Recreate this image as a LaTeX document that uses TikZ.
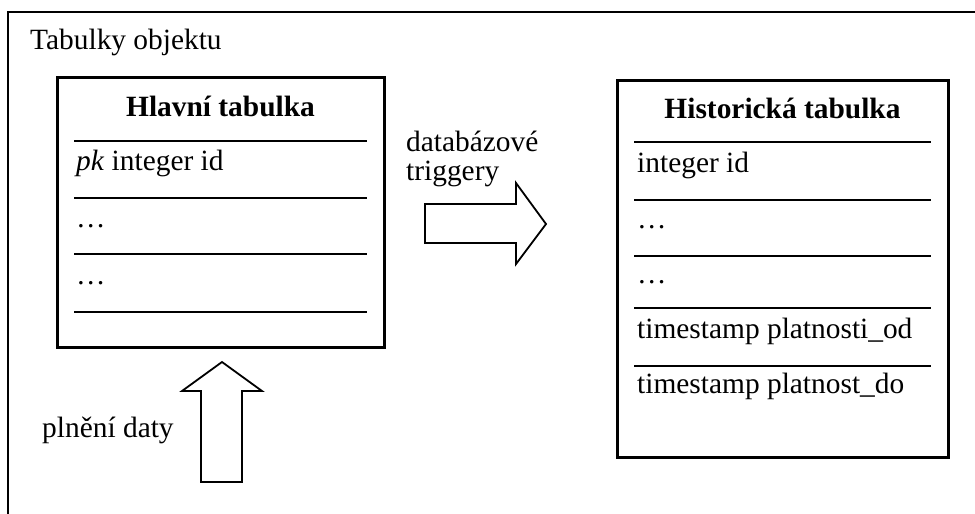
\documentclass[tikz,border=0pt]{standalone}
\usepackage{fontspec}
\setmainfont{Liberation Serif}

\newcommand{\tabfont}{\fontsize{29.4}{35}\selectfont}

\tikzset{
  frameline/.style={line width=2pt},
  tablebox/.style={line width=3pt},
  rowline/.style={line width=1.8pt},
  blockarrow/.style={line width=1.8pt, line join=miter},
  txt/.style={anchor=base west, inner sep=0pt},
  tabtitle/.style={anchor=base, inner sep=0pt, font=\tabfont\bfseries},
}

\begin{document}
\begin{tikzpicture}[x=1pt,y=-1pt,font=\tabfont]

\useasboundingbox (0,0) rectangle (975,514);

% outer frame, open at the right and at the bottom
\draw[frameline] (8,514) -- (8,12) -- (975,12);
\node (frame_label) [txt] at (30,49) {Tabulky objektu};

% main table
\draw[tablebox] (57,77) rectangle (384,347);
\node (main_title) [tabtitle] at (220.5,116) {Hlavní tabulka};
\foreach \y in {141,198,254,312}
    \draw[rowline] (74,\y) -- (367,\y);
\node (main_id) [txt] at (76,170) {\textit{pk} integer id};
\node (main_row2) [txt] at (76,227) {…};
\node (main_row3) [txt] at (76,284) {…};

% history table
\draw[tablebox] (617,80) rectangle (948,457);
\node (hist_title) [tabtitle] at (782.5,118) {Historická tabulka};
\foreach \y in {142,200,256,308,366}
    \draw[rowline] (634,\y) -- (931,\y);
\node (hist_id) [txt] at (637,172) {integer id};
\node (hist_row2) [txt] at (637,228) {…};
\node (hist_row3) [txt] at (637,283) {…};
\node (hist_from) [txt] at (637,338) {timestamp platnosti\_od};
\node (hist_to) [txt] at (637,393) {timestamp platnost\_do};

% triggers copy rows to the history table
\draw[blockarrow] (425,204) -- (516,204) -- (516,183) -- (546,224)
    -- (516,264) -- (516,243) -- (425,243) -- cycle;
\node (trigger_label) [txt,align=left] at (406,151) {databázové};
\node (trigger_label2) [txt] at (406,180) {triggery};

% data loading into the main table
\draw[blockarrow] (201,482) -- (201,391) -- (182,391) -- (222,362)
    -- (262,391) -- (242,391) -- (242,482) -- cycle;
\node (load_label) [txt] at (42,437) {plnění daty};

\end{tikzpicture}
\end{document}
